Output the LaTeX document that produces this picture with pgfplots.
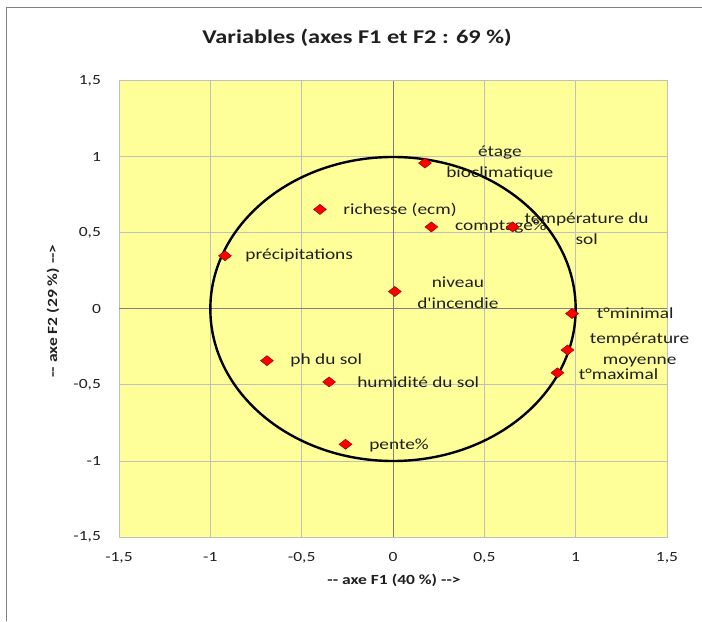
\documentclass[border=0pt]{standalone}
\usepackage{fontspec}
\setmainfont{Carlito}[FakeStretch=1.25, Ligatures=TeXOff]
\usepackage{pgfplots}
\pgfplotsset{compat=1.18}
\definecolor{plotbg}{HTML}{FFFF99}
\definecolor{gridc}{HTML}{BFBFBF}
\definecolor{zeroc}{HTML}{808080}
\definecolor{txt}{HTML}{1F1F1F}
\definecolor{mkred}{HTML}{FF0000}
\definecolor{mkedge}{HTML}{990000}
\begin{document}
\begin{tikzpicture}[x=0.75pt,y=0.75pt]
\path[use as bounding box] (0,0) rectangle (702,621);
\draw[color=zeroc, line width=0.75pt] (6,0) -- (6,613) -- (702,613);
\node[font=\fontsize{14.6}{16}\selectfont\bfseries, text=txt, inner sep=0] at (357,583) {Variables (axes F1 et F2 : 69 \%)};
\node[font=\fontsize{10.5}{12}\selectfont\bfseries, text=txt, inner sep=0] at (394,41) {-{}- axe F1 (40 \%) -{}-{}>};
\node[font=\fontsize{10.5}{12}\selectfont\bfseries, text=txt, inner sep=0, rotate=90] at (53,310) {-{}- axe F2 (29 \%) -{}-{}>};
\begin{axis}[
  at={(89.25pt,63pt)}, anchor=south west,
  scale only axis, width=411pt, height=342pt,
  xmin=-1.5, xmax=1.5, ymin=-1.5, ymax=1.5,
  xtick={-1.5,-1,-0.5,0,0.5,1,1.5},
  ytick={-1.5,-1,-0.5,0,0.5,1,1.5},
  grid=major,
  grid style={draw=gridc, line width=0.75pt},
  axis background/.style={fill=plotbg},
  axis line style={draw=gridc, line width=0.75pt},
  tick style={draw=none},
  /pgf/number format/.cd, use comma, 1000 sep={}, assume math mode=true,
  /pgfplots/.cd,
  xticklabel style={font=\fontsize{10.5}{12}\selectfont, text=txt, yshift=-8pt},
  yticklabel style={font=\fontsize{10.5}{12}\selectfont, text=txt, xshift=-10pt},
  clip=false,
]
\draw[color=zeroc, line width=0.75pt] (axis cs:0,-1.5) -- (axis cs:0,1.5);
\draw[color=zeroc, line width=0.75pt] (axis cs:-1.5,0) -- (axis cs:1.5,0);
\draw[black, line width=1.8pt] (axis cs:0,0) ellipse [x radius=1, y radius=1];
\addplot[only marks, mark=diamond*, mark size=3.75pt,
  mark options={fill=mkred, draw=mkedge, line width=0.4pt, xscale=1.7}]
  coordinates {
  (0.175,0.96)
  (-0.40,0.655)
  (0.21,0.54)
  (0.655,0.54)
  (-0.92,0.35)
  (0.01,0.115)
  (0.98,-0.03)
  (0.955,-0.27)
  (0.90,-0.42)
  (-0.69,-0.34)
  (-0.35,-0.48)
  (-0.26,-0.89)
  };
\begin{scope}[every node/.style={font=\fontsize{11.6}{15.75}\selectfont, text=txt, inner sep=0}]
\node[align=center] at (axis cs:0.585,0.96) {étage\\bioclimatique};
\node[anchor=west] at (axis cs:-0.273,0.65) {richesse (ecm)};
\node[anchor=west] at (axis cs:0.339,0.54) {comptage\%};
\node[align=center] at (axis cs:1.06,0.53) {température du\\sol};
\node[anchor=west] at (axis cs:-0.809,0.355) {précipitations};
\node[align=center] at (axis cs:0.355,0.11) {niveau\\d'incendie};
\node[anchor=west] at (axis cs:1.115,-0.026) {t°minimal};
\node[align=center] at (axis cs:1.35,-0.27) {température\\moyenne};
\node[anchor=west] at (axis cs:1.016,-0.43) {t°maximal};
\node[anchor=west] at (axis cs:-0.563,-0.34) {ph du sol};
\node[anchor=west] at (axis cs:-0.197,-0.48) {humidité du sol};
\node[anchor=west] at (axis cs:-0.131,-0.895) {pente\%};
\end{scope}
\end{axis}
\end{tikzpicture}
\end{document}
